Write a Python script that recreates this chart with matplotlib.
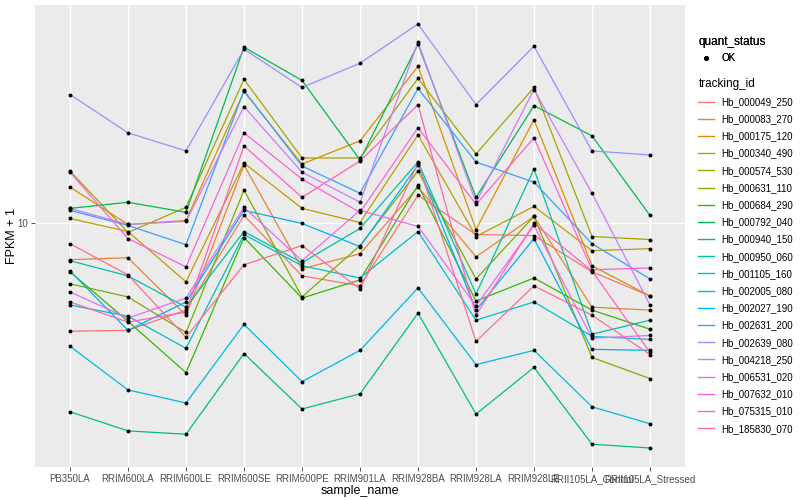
import matplotlib
matplotlib.use("Agg")
import matplotlib.pyplot as plt
from matplotlib.lines import Line2D

plt.rcParams['font.family'] = ['Liberation Sans', 'DejaVu Sans']

samples = ["PB350LA", "RRIM600LA", "RRIM600LE", "RRIM600SE", "RRIM600PE",
           "RRIM901LA", "RRIM928BA", "RRIM928LA", "RRIM928LE",
           "RRII105LA_Control", "RRII105LA_Stressed"]

tracking_ids = ["Hb_000049_250", "Hb_000083_270", "Hb_000175_120", "Hb_000340_490",
                "Hb_000574_530", "Hb_000631_110", "Hb_000684_290", "Hb_000792_040",
                "Hb_000940_150", "Hb_000950_060", "Hb_001105_160", "Hb_002005_080",
                "Hb_002027_190", "Hb_002631_200", "Hb_002639_080", "Hb_004218_250",
                "Hb_006531_020", "Hb_007632_010", "Hb_075315_010", "Hb_185830_070"]

# FPKM + 1, one list per tracking_id (same order as samples)
hb_000049_250 = [4.15, 4.18, 4.93, 10.68, 6.52, 6.01, 12.59, 9.14, 9.06, 6.74, 5.53]
hb_000083_270 = [7.44, 7.56, 4.73, 16.11, 6.91, 7.81, 13.45, 7.62, 10.59, 5.05, 4.93]
hb_000175_120 = [13.45, 9.92, 10.25, 29.37, 16.24, 19.63, 36.07, 9.52, 23.33, 7.08, 5.53]
hb_000340_490 = [10.42, 9.36, 6.21, 16.38, 11.31, 10.08, 20.62, 8.99, 11.50, 8.01, 8.14]
hb_000574_530 = [15.34, 9.29, 11.41, 32.41, 17.07, 17.07, 32.68, 17.64, 30.35, 8.99, 8.77]
hb_000631_110 = [6.11, 5.49, 4.11, 13.12, 5.49, 8.35, 15.34, 6.36, 10.59, 3.35, 2.82]
hb_000684_290 = [6.74, 4.50, 2.96, 8.91, 5.44, 6.31, 13.67, 5.31, 6.41, 4.93, 4.22]
hb_000792_040 = [11.31, 11.89, 10.95, 42.17, 32.15, 16.79, 43.22, 12.38, 26.17, 20.45, 10.68]
hb_000940_150 = [2.15, 1.84, 1.79, 3.46, 2.20, 2.49, 4.81, 2.11, 3.09, 1.65, 1.60]
hb_000950_060 = [7.38, 6.52, 5.05, 9.36, 7.26, 9.60, 16.51, 5.62, 15.59, 4.05, 4.54]
hb_001105_160 = [5.14, 4.69, 3.61, 9.14, 7.08, 6.41, 9.36, 4.54, 5.27, 3.98, 3.88]
hb_002005_080 = [3.67, 2.57, 2.31, 4.39, 2.75, 3.55, 5.91, 3.16, 3.55, 2.24, 1.95]
hb_002027_190 = [6.79, 4.18, 5.27, 11.13, 10.00, 8.28, 16.11, 4.93, 8.84, 3.58, 3.55]
hb_002631_200 = [11.13, 9.84, 8.41, 29.61, 15.98, 12.80, 30.10, 16.51, 14.01, 8.48, 6.36]
hb_002639_080 = [28.65, 20.96, 18.08, 41.48, 30.35, 36.97, 50.95, 26.39, 42.52, 18.08, 17.49]
hb_004218_250 = [11.31, 9.92, 10.17, 25.96, 15.21, 11.89, 43.94, 11.89, 29.85, 12.80, 5.14]
hb_006531_020 = [5.72, 4.62, 5.44, 11.41, 7.38, 11.13, 9.76, 5.10, 9.84, 3.92, 4.01]
hb_007632_010 = [15.21, 8.84, 7.02, 20.96, 14.36, 10.95, 21.84, 11.69, 20.12, 6.85, 6.96]
hb_075315_010 = [5.27, 4.47, 4.85, 18.84, 12.38, 16.65, 26.39, 4.73, 10.00, 6.79, 3.49]
hb_185830_070 = [8.48, 6.57, 3.95, 7.14, 8.35, 5.86, 16.38, 3.82, 6.01, 4.73, 3.43]

series = [hb_000049_250, hb_000083_270, hb_000175_120, hb_000340_490, hb_000574_530,
          hb_000631_110, hb_000684_290, hb_000792_040, hb_000940_150, hb_000950_060,
          hb_001105_160, hb_002005_080, hb_002027_190, hb_002631_200, hb_002639_080,
          hb_004218_250, hb_006531_020, hb_007632_010, hb_075315_010, hb_185830_070]

# ggplot2 default hue palette for 20 levels
colors = ["#F8766D", "#EA8331", "#D89000", "#C09B00", "#A3A500", "#7CAE00", "#39B600",
          "#00BB4E", "#00BF7D", "#00C1A3", "#00BFC4", "#00BAE0", "#00B0F6", "#35A2FF",
          "#9590FF", "#C77CFF", "#E76BF3", "#FA62DB", "#FF62BC", "#FF6C91"]

fig = plt.figure(figsize=(8, 5), dpi=100)
ax = fig.add_axes([0.044, 0.066, 0.812, 0.924])
ax.set_facecolor("#EBEBEB")
for s in ax.spines.values():
    s.set_visible(False)

x = list(range(len(samples)))
for vals, c in zip(series, colors):
    ax.plot(x, vals, color=c, lw=0.9, zorder=2)
    ax.scatter(x, vals, color="black", s=8, zorder=3, linewidths=0)

ax.set_yscale("log")
ax.set_yticks([10])
ax.set_yticklabels(["10"])
ax.minorticks_off()
ax.set_xticks(x)
ax.set_xticklabels(samples)
ax.set_xlim(-0.6, len(samples) - 0.4)
ax.set_ylim(1.37, 59.5)
ax.grid(True, color="white", lw=1.0, zorder=0)
ax.set_axisbelow(True)
ax.tick_params(axis="both", colors="#333333", labelcolor="#4D4D4D", labelsize=7,
               length=3, width=0.6, pad=2)
ax.set_xlabel("sample_name", fontsize=9, labelpad=1)
ax.set_ylabel("FPKM + 1", fontsize=9)
ax.yaxis.set_label_coords(-0.027, 0.5)

h1 = [Line2D([], [], ls="none", marker="o", color="black", ms=2.5)]
leg1 = fig.legend(h1, ["OK"], title="quant_status", loc="upper left",
                  bbox_to_anchor=(0.862, 0.945), frameon=False, fontsize=7,
                  title_fontsize=8.5, handlelength=1.6, alignment="left")
fig.add_artist(leg1)

h2 = [Line2D([], [], color=c, lw=1.0) for c in colors]
fig.legend(h2, tracking_ids, title="tracking_id", loc="upper left",
           bbox_to_anchor=(0.862, 0.862), frameon=False, fontsize=7,
           title_fontsize=8.5, handlelength=1.6, labelspacing=0.74,
           alignment="left")

fig.savefig("out.png", dpi=100)
